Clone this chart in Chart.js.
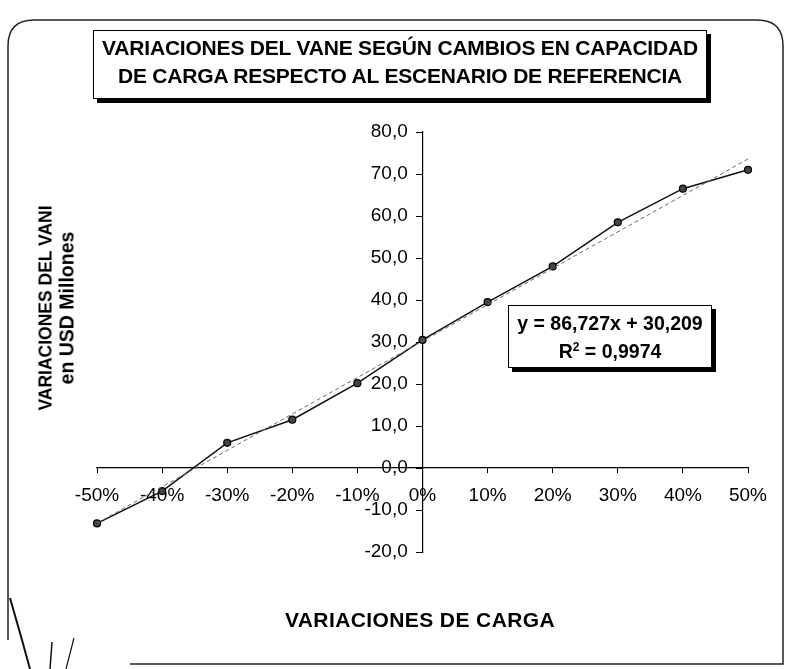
<!DOCTYPE html>
<html>
<head>
<meta charset="utf-8">
<script src="https://cdn.jsdelivr.net/npm/chart.js@4.4.0/dist/chart.umd.min.js"></script>
<style>
  body { margin: 0; background: #fff; }
  #wrap { position: relative; width: 790px; height: 669px; overflow: hidden; font-family: "Liberation Sans", Arial, sans-serif; color: #000; }
  #trazos { position: absolute; left: 0; top: 0; }
  #chart { position: absolute; left: 0; top: 0; }
  .box { position: absolute; background: #fff; border: 1.5px solid #000; box-shadow: 4px 4px 0 #000; text-align: center; font-weight: bold; box-sizing: border-box; white-space: nowrap; }
  #title { left: 93px; top: 30px; width: 614px; height: 69px; padding-top: 3px; font-size: 21px; line-height: 28px; letter-spacing: -0.2px; }
  #eq { left: 508px; top: 305px; width: 204px; height: 63px; padding-top: 3px; font-size: 19.5px; line-height: 28px; }
  #ytitle { position: absolute; left: 57px; top: 308px; width: 280px; transform: translate(-50%, -50%) rotate(-90deg); text-align: center; font-weight: bold; line-height: 20px; white-space: nowrap; }
  #xtitle { position: absolute; left: 420px; top: 620px; transform: translate(-50%, -50%); font-weight: bold; font-size: 21px; letter-spacing: 0.4px; white-space: nowrap; }
</style>
</head>
<body>
<div id="wrap">
  <svg id="trazos" width="790" height="669">
    <!-- marco redondeado del gráfico, abierto en la esquina inferior izquierda -->
    <path d="M8 640 L8 46 Q8 20 34 20 L757 20 Q783 20 783 46 L783 664 L130 664" stroke="#222" stroke-width="1.5" fill="none"/>
    <path d="M10 598 L22 640 L30 669" stroke="#111" stroke-width="2" fill="none"/>
    <path d="M52 642 L50 669" stroke="#111" stroke-width="1.5" fill="none"/>
    <path d="M74 638 L66 669" stroke="#111" stroke-width="1.2" fill="none"/>
  </svg>
  <canvas id="chart" width="790" height="669"></canvas>
  <div class="box" id="title">VARIACIONES DEL VANE SEGÚN CAMBIOS EN CAPACIDAD<br>DE CARGA RESPECTO AL ESCENARIO DE REFERENCIA</div>
  <div class="box" id="eq">y = 86,727x + 30,209<br>R<sup style="font-size:12px;line-height:0">2</sup> = 0,9974</div>
  <div id="ytitle"><span style="font-size:17.5px">VARIACIONES DEL VANI</span><br><span style="font-size:19.5px">en USD Millones</span></div>
  <div id="xtitle">VARIACIONES DE CARGA</div>
</div>
<script>
// variación de carga respecto al escenario de referencia (fracción)
const cargaVar = [-0.5, -0.4, -0.3, -0.2, -0.1, 0, 0.1, 0.2, 0.3, 0.4, 0.5];
// variación del VANI, USD millones
const vaniVar = [-13.2, -5.5, 6.0, 11.5, 20.2, 30.5, 39.5, 48.0, 58.5, 66.5, 71.0];
// recta de tendencia lineal (y = a·x + b)
const trendSlope = 86.727;
const trendIntercept = 30.209;

const puntos = cargaVar.map((x, i) => ({ x, y: vaniVar[i] }));
const xIni = cargaVar[0], xFin = cargaVar[cargaVar.length - 1];
const tendencia = [
  { x: xIni, y: trendSlope * xIni + trendIntercept },
  { x: xFin, y: trendSlope * xFin + trendIntercept }
];

const fuenteTicks = { family: '"Liberation Sans", Arial, sans-serif', size: 19 };

new Chart(document.getElementById('chart').getContext('2d'), {
  type: 'scatter',
  data: {
    datasets: [
      {
        label: 'Tendencia',
        data: tendencia,
        showLine: true,
        borderColor: '#666',
        borderWidth: 1,
        borderDash: [4, 3],
        pointRadius: 0,
        clip: false
      },
      {
        label: 'VANI',
        data: puntos,
        showLine: true,
        borderColor: '#111',
        borderWidth: 1.5,
        pointStyle: 'circle',
        pointRadius: 3.5,
        pointBackgroundColor: '#444',
        pointBorderColor: '#000',
        pointBorderWidth: 1.2,
        clip: false
      }
    ]
  },
  options: {
    responsive: false,
    animation: false,
    layout: { padding: { left: 97, right: 42, top: 132, bottom: 117 } },
    plugins: { legend: { display: false }, tooltip: { enabled: false } },
    scales: {
      x: {
        type: 'linear',
        position: { y: 0 },
        min: -0.5,
        max: 0.5,
        afterFit: s => { s.height = 0; },
        border: { color: '#000', width: 1.2 },
        grid: { drawOnChartArea: false, tickLength: 5, color: '#000' },
        ticks: {
          stepSize: 0.1,
          color: '#000',
          font: fuenteTicks,
          padding: 11,
          maxRotation: 0,
          callback: v => Math.round(v * 100) + '%'
        }
      },
      y: {
        type: 'linear',
        position: { x: 0 },
        min: -20,
        max: 80,
        afterFit: s => { s.width = 0; },
        border: { color: '#000', width: 1.2 },
        grid: { drawOnChartArea: false, tickLength: 6, color: '#000' },
        ticks: {
          stepSize: 10,
          color: '#000',
          font: fuenteTicks,
          // en eje centrado la etiqueta se alinea sobre la línea: se separa con espacios
          callback: v => v.toFixed(1).replace('.', ',') + '\u2002\u0020'
        }
      }
    }
  }
});
</script>
</body>
</html>
